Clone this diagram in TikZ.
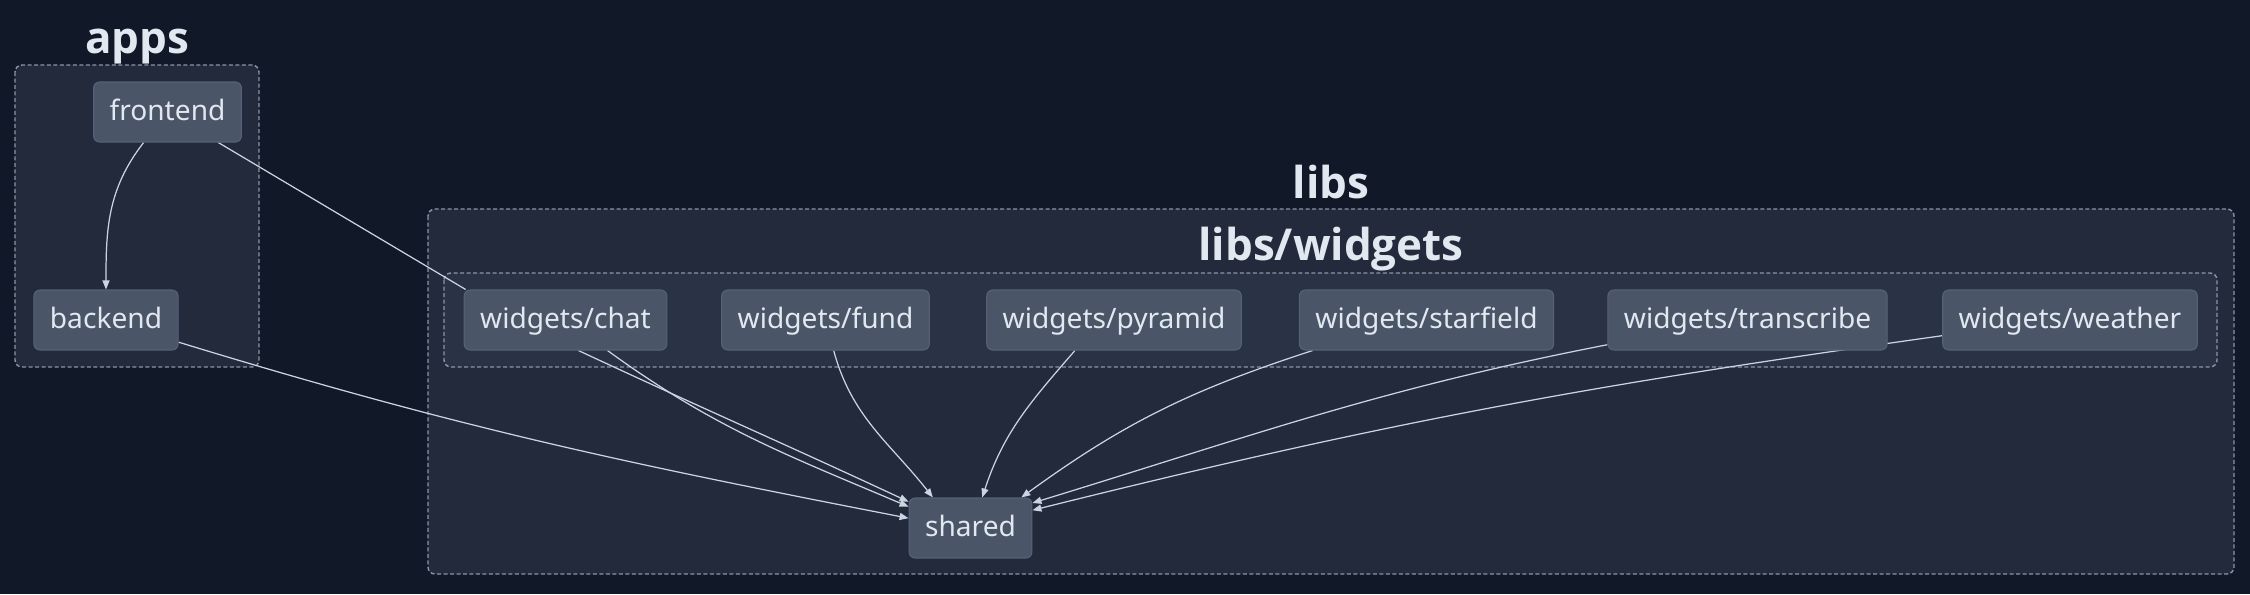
\documentclass[tikz,border=0pt]{standalone}
\usepackage{fontspec}
\setmainfont{Noto Sans}
\newfontfamily\ttlfont{Open Sans}
\usetikzlibrary{arrows.meta}
\definecolor{bgcol}{HTML}{111827}
\definecolor{grpcol}{HTML}{222A3C}
\definecolor{subcol}{HTML}{2A3345}
\definecolor{dashcol}{HTML}{8B95A7}
\definecolor{modcol}{HTML}{4A5568}
\definecolor{modline}{HTML}{56627A}
\definecolor{txtcol}{HTML}{E2E8F0}
\definecolor{depcol}{HTML}{CBD5E1}
\pgfdeclarelayer{background}
\pgfdeclarelayer{edges}
\pgfsetlayers{background,edges,main}

\begin{document}
\begin{tikzpicture}[
  mod/.style={draw=modline, line width=0.3pt, fill=modcol, rounded corners=0.06cm,
    text=txtcol, font=\fontsize{8}{10}\selectfont, inner xsep=0.16cm,
    minimum height=0.6cm, text height=6.5pt, text depth=1.5pt},
  grp/.style={draw=dashcol, line width=0.4pt, dash pattern=on 0.04cm off 0.025cm,
    rounded corners=0.07cm},
  ttl/.style={anchor=base, text=txtcol, font=\ttlfont\bfseries\fontsize{12.5}{15}\selectfont},
  dep/.style={draw=depcol, line width=0.35pt, -{Triangle[length=0.09cm,width=0.07cm]}}
]
            \useasboundingbox (0,0) rectangle (22.5,5.94);

            % Drawing background and clusters
            \begin{pgfonlayer}{background}
            \fill [bgcol] (0,0) rectangle (22.5,5.94);%
            \draw [grp, fill=grpcol] (0.15,5.29) rectangle (2.59,2.27);%
            \draw [grp, fill=grpcol] (4.28,3.85) rectangle (22.34,0.20);%
            \draw [grp, fill=subcol] (4.44,3.21) rectangle (22.17,2.27);%
            \end{pgfonlayer}

            % Marking cluster titles
            \node [ttl] (appsttl) at (1.37,5.41) {apps};%
            \node [ttl] (libsttl) at (13.31,3.96) {libs};%
            \node [ttl] (widgetsttl) at (13.31,3.34) {libs/widgets};%

            % Marking apps
            \node [mod] (frontend) at (1.675,4.82) {frontend};%
            \node [mod] (backend) at (1.06,2.74) {backend};%

            % Marking widgets
            \node [mod] (chat) at (5.655,2.74) {widgets/chat};%
            \node [mod] (fund) at (8.255,2.74) {widgets/fund};%
            \node [mod] (pyramid) at (11.14,2.74) {widgets/pyramid};%
            \node [mod] (starfield) at (14.265,2.74) {widgets/starfield};%
            \node [mod] (transcribe) at (17.475,2.74) {widgets/transcribe};%
            \node [mod] (weather) at (20.70,2.74) {widgets/weather};%

            % Marking shared
            \node [mod] (shared) at (9.705,0.66) {shared};%

            % Drawing dependencies
            \begin{pgfonlayer}{edges}
            \draw [dep] (frontend) to[out=232,in=90] (backend);%
            \draw [depcol, line width=0.35pt] (frontend.-31.5) -- (chat.163);%
            \draw [dep] (backend) to[out=-17,in=169] (shared.171);%
            \draw [dep] (chat.-67) to[out=-25,in=155] (shared.157);%
            \draw [dep] (chat.-36) to[out=-36,in=157] (shared.161);%
            \draw [dep] (fund) to[out=-75,in=128] (shared.141);%
            \draw [dep] (pyramid.218) to[out=229,in=72] (shared.69);%
            \draw [dep] (starfield.195) to[out=198,in=36] (shared.31);%
            \draw [dep] (transcribe.190) to[out=191,in=17] (shared.22);%
            \draw [dep] (weather.187) to[out=188,in=14] (shared.16);%
            \end{pgfonlayer}
\end{tikzpicture}
\end{document}
